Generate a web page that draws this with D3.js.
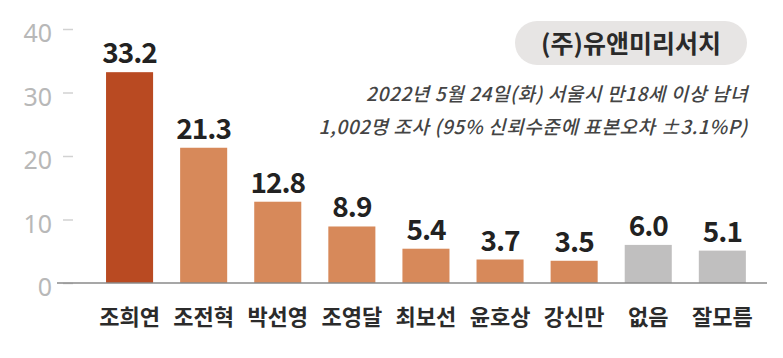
<!DOCTYPE html>
<html>
<head>
<meta charset="utf-8">
<script src="https://cdn.jsdelivr.net/npm/d3@7"></script>
<style>
body{margin:0;background:#fff;}
svg{display:block;font-family:"Noto Sans CJK KR","Noto Sans",sans-serif;}
</style>
</head>
<body>
<script>
var width=783;
var height=358;
var categories=["조희연","조전혁","박선영","조영달","최보선","윤호상","강신만","없음","잘모름"];
var values=[33.2,21.3,12.8,8.9,5.4,3.7,3.5,6.0,5.1];
var yTicks=[0,10,20,30,40];
var leader="조희연";
var neutral=["없음","잘모름"];
var badgeText="(주)유앤미리서치";
var noteLines=["2022년 5월 24일(화) 서울시 만18세 이상 남녀","1,002명 조사 (95% 신뢰수준에 표본오차 ±3.1%P)"];

var svg=d3.select("body").append("svg").attr("width",width).attr("height",height);

var x=d3.scaleBand().domain(categories).range([92.7,759.2]).paddingInner(0.365).paddingOuter(0.18);
var y=d3.scaleLinear().domain([0,40]).range([283,29]);

function barColor(c){
    if(c==leader) return "#b94a22";
    if(neutral.indexOf(c)>=0) return "#c0bfbf";
    return "#d7895a";
}

// y axis
var yAxis=d3.axisLeft(y).tickValues(yTicks).tickSize(10).tickPadding(11);
var gy=svg.append("g").attr("transform","translate(73,0)").call(yAxis);
gy.select(".domain").remove();
gy.selectAll(".tick line").attr("stroke","#d2d2d2").attr("stroke-width",1.5);
gy.selectAll(".tick text")
    .attr("fill","#b8b8b8")
    .attr("font-size","25px")
    .attr("font-family","'Noto Sans','Noto Sans CJK KR',sans-serif")
    .attr("dy","0.5em");

// bars
svg.selectAll(".bar").data(values).enter().append("rect")
    .attr("class","bar")
    .attr("x",function(d,i){return x(categories[i]);})
    .attr("y",function(d){return y(d);})
    .attr("width",x.bandwidth())
    .attr("height",function(d){return y(0)-y(d);})
    .attr("fill",function(d,i){return barColor(categories[i]);});

// baseline
svg.append("line")
    .attr("x1",57).attr("x2",767)
    .attr("y1",y(0)).attr("y2",y(0))
    .attr("stroke","#8a8a8a").attr("stroke-width",1.5);

// value labels
svg.selectAll(".val").data(values).enter().append("text")
    .attr("class","val")
    .attr("x",function(d,i){return x(categories[i])+x.bandwidth()/2;})
    .attr("y",function(d){return y(d)-9;})
    .attr("text-anchor","middle")
    .attr("font-size","28px")
    .attr("font-weight","bold")
    .attr("letter-spacing","-1px")
    .attr("fill","#222")
    .text(function(d){return d3.format(".1f")(d);});

// category labels
svg.selectAll(".cat").data(categories).enter().append("text")
    .attr("class","cat")
    .attr("x",function(d){return x(d)+x.bandwidth()/2;})
    .attr("y",325)
    .attr("text-anchor","middle")
    .attr("font-size","22px")
    .attr("font-weight","bold")
    .attr("fill","#2b2b2b")
    .text(function(d){return d;});

// source badge
svg.append("rect")
    .attr("x",515).attr("y",21)
    .attr("width",232).attr("height",44)
    .attr("rx",22)
    .attr("fill","#e7e5e4");
svg.append("text")
    .attr("x",631).attr("y",53)
    .attr("text-anchor","middle")
    .attr("font-size","25px")
    .attr("font-weight","bold")
    .attr("fill","#2a2a2a")
    .text(badgeText);

// survey note
svg.selectAll(".note").data(noteLines).enter().append("text")
    .attr("class","note")
    .attr("x",748)
    .attr("y",function(d,i){return 101+i*33;})
    .attr("text-anchor","end")
    .attr("font-size","19px")
    .attr("font-weight","500")
    .attr("letter-spacing","0.6px")
    .attr("font-style","italic")
    .attr("fill","#444")
    .text(function(d){return d;});
</script>
</body>
</html>
